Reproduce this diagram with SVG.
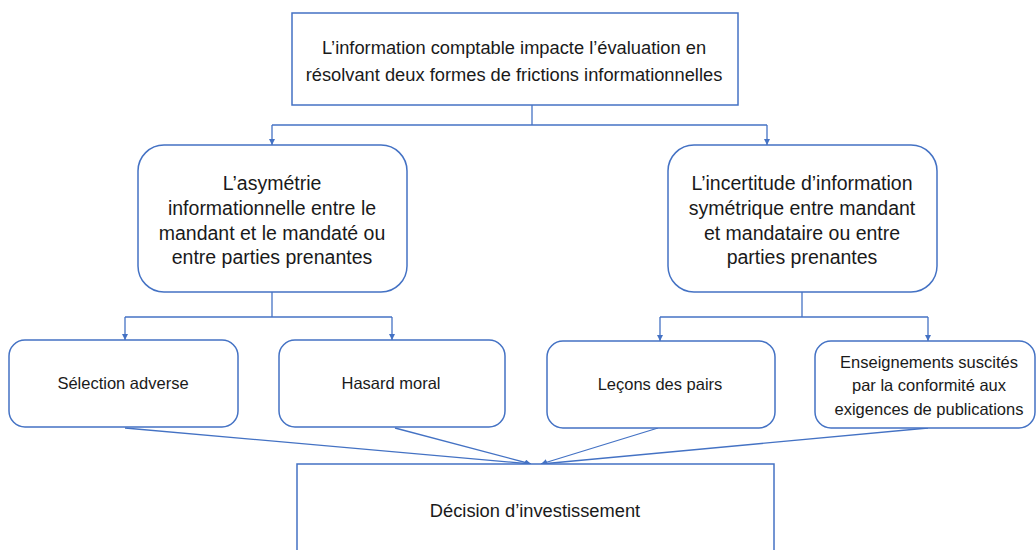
<svg xmlns="http://www.w3.org/2000/svg" width="1036" height="550" viewBox="0 0 1036 550">
<style>
.box{fill:#fff;stroke:#4472C4;stroke-width:1.5}
.t{font-family:"Liberation Sans",Arial,sans-serif;font-size:18.3px;fill:#1a1a1a;text-anchor:middle}
.tm{font-family:"Liberation Sans",Arial,sans-serif;font-size:19.5px;fill:#1a1a1a;text-anchor:middle}
.ts{font-family:"Liberation Sans",Arial,sans-serif;font-size:16.5px;fill:#1a1a1a;text-anchor:middle}
.c{fill:none;stroke:#4472C4;stroke-width:1.3}
</style>
<defs>
<marker id="a" viewBox="0 0 10 10" refX="10" refY="5" markerWidth="6" markerHeight="6" orient="auto" markerUnits="userSpaceOnUse">
<path d="M0,0 L10,5 L0,10 z" fill="#4472C4"/>
</marker>
</defs>
<rect width="1036" height="550" fill="#fff"/>
<g id="connectors">
<path class="c" d="M532,105 V125"/>
<path class="c" d="M272,125 H767"/>
<path class="c" d="M272,125 V145" marker-end="url(#a)"/>
<path class="c" d="M767,125 V145" marker-end="url(#a)"/>
<path class="c" d="M272,292 V317"/>
<path class="c" d="M125,317 H392"/>
<path class="c" d="M125,317 V340" marker-end="url(#a)"/>
<path class="c" d="M392,317 V340" marker-end="url(#a)"/>
<path class="c" d="M802,292 V317"/>
<path class="c" d="M660,317 H928"/>
<path class="c" d="M660,317 V341" marker-end="url(#a)"/>
<path class="c" d="M928,317 V341" marker-end="url(#a)"/>
<path class="c" d="M125,428 L531,464" marker-end="url(#a)"/>
<path class="c" d="M395,428 L531,464" marker-end="url(#a)"/>
<path class="c" d="M658,428 L541,464" marker-end="url(#a)"/>
<path class="c" d="M928,428 L541,464" marker-end="url(#a)"/>
</g>
<g id="top">
<rect class="box" x="292" y="13" width="446" height="92"/>
<text class="t" x="514" y="54">L’information comptable impacte l’évaluation en</text>
<text class="t" x="514" y="81">résolvant deux formes de frictions informationnelles</text>
</g>
<g id="asym">
<rect class="box" x="138" y="145" width="269" height="147" rx="26"/>
<text class="tm" x="272" y="190">L’asymétrie</text>
<text class="tm" x="272" y="215">informationnelle entre le</text>
<text class="tm" x="272" y="240">mandant et le mandaté ou</text>
<text class="tm" x="272" y="264">entre parties prenantes</text>
</g>
<g id="incert">
<rect class="box" x="668" y="145" width="269" height="147" rx="26"/>
<text class="tm" x="802" y="190">L’incertitude d’information</text>
<text class="tm" x="802" y="215">symétrique entre mandant</text>
<text class="tm" x="802" y="240">et mandataire ou entre</text>
<text class="tm" x="802" y="264">parties prenantes</text>
</g>
<g id="selection">
<rect class="box" x="9" y="340" width="229" height="87" rx="16"/>
<text class="ts" x="123" y="389">Sélection adverse</text>
</g>
<g id="hasard">
<rect class="box" x="279" y="340" width="226" height="87" rx="16"/>
<text class="ts" x="391" y="389">Hasard moral</text>
</g>
<g id="lecons">
<rect class="box" x="547" y="341" width="228" height="87" rx="16"/>
<text class="ts" x="660" y="390">Leçons des pairs</text>
</g>
<g id="enseignements">
<rect class="box" x="815" y="341" width="220" height="87" rx="16"/>
<text class="ts" x="929" y="368">Enseignements suscités</text>
<text class="ts" x="929" y="391">par la conformité aux</text>
<text class="ts" x="929" y="415">exigences de publications</text>
</g>
<g id="decision">
<rect class="box" x="297" y="464" width="477" height="100"/>
<text class="t" x="535" y="517">Décision d’investissement</text>
</g>
</svg>
